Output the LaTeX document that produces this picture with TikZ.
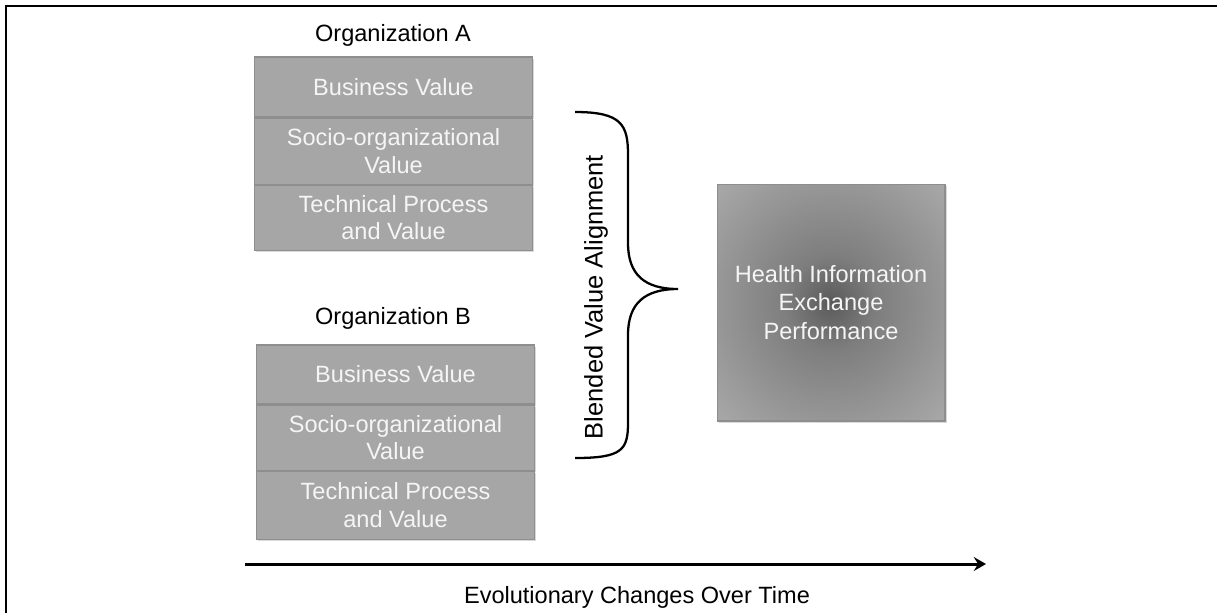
\documentclass[tikz,border=0pt]{standalone}
\usepackage{fontspec}
\setmainfont{Liberation Sans}
\usetikzlibrary{arrows.meta,positioning,shadows}

\definecolor{cellgray}{HTML}{A6A6A6}
\definecolor{celledge}{HTML}{8E8E8E}
\definecolor{celltext}{HTML}{F5F5F5}
\definecolor{hubdark}{HTML}{5A5A5A}
\definecolor{hubmid}{HTML}{7E7E7E}
\pgfdeclareradialshading{hubglow}{\pgfpointorigin}{color(0bp)=(hubdark);
  color(10bp)=(hubmid); color(34bp)=(cellgray); color(50bp)=(cellgray)}

\begin{document}
\begin{tikzpicture}[x=0.02cm,y=-0.02cm,>={Stealth[length=7pt,width=8pt,inset=2.5pt]},
                    node distance=0pt,semithick]
  \tikzstyle{every node}=[font=\fontsize{13.4}{15.5}\selectfont]
  \tikzstyle{cell}=[draw=celledge,fill=cellgray,text=celltext,align=center,
                    inner sep=0pt,minimum width=5.56cm,
                    drop shadow={shadow xshift=1pt,shadow yshift=-1pt,
                                 opacity=0.25,fill=black!60}]
  \tikzstyle{hub}=[draw=celledge,shading=hubglow,text=celltext,align=center,
                   minimum width=4.56cm,minimum height=4.74cm,
                   font=\fontsize{13.4}{16.3}\selectfont,
                   drop shadow={shadow xshift=1pt,shadow yshift=-1pt,
                                opacity=0.25,fill=black!60}]

  \useasboundingbox (0,0) rectangle (1217,613);
  \draw[line width=1.1pt] (6,613) -- (6,6) -- (1217,6);

  % organization A
  \node               (orgA) at (393,35)  {Organization A};
  \node[cell,minimum height=1.2cm]  (a1) at (393.5,87) {Business Value};
  \node[cell,minimum height=1.32cm] (a2) [below=of a1] {Socio-organizational\\Value};
  \node[cell,minimum height=1.3cm]  (a3) [below=of a2] {Technical Process\\and Value};

  % organization B
  \node               (orgB) at (393,318) {Organization B};
  \node[cell,minimum height=1.18cm] (b1) at (395.5,374.5) {Business Value};
  \node[cell,minimum height=1.3cm]  (b2) [below=of b1] {Socio-organizational\\Value};
  \node[cell,minimum height=1.36cm] (b3) [below=of b2] {Technical Process\\and Value};

  % blended value
  \coordinate (bt) at (575,112);
  \coordinate (bm) at (678,289);
  \coordinate (bb) at (575,458);
  \draw[line width=1.3pt] (bt) .. controls (622,112) and (628,125) .. (628,155)
        -- (628,243) .. controls (628,275) and (645,289) .. (bm)
        .. controls (645,289) and (628,303) .. (628,335)
        -- (628,423) .. controls (628,450) and (622,458) .. (bb);
  \node[rotate=90,font=\fontsize{14.5}{16}\selectfont] (blend) at (596,297)
        {Blended Value Alignment};

  \node[hub] (hie) at (831,302.5) {Health Information\\Exchange\\Performance};

  % time axis
  \coordinate (ts) at (245,564);
  \coordinate (te) at (986,564);
  \draw[->,line width=1.7pt] (ts) -- (te);
  \node (time) at (637,597) {Evolutionary Changes Over Time};
\end{tikzpicture}
\end{document}
